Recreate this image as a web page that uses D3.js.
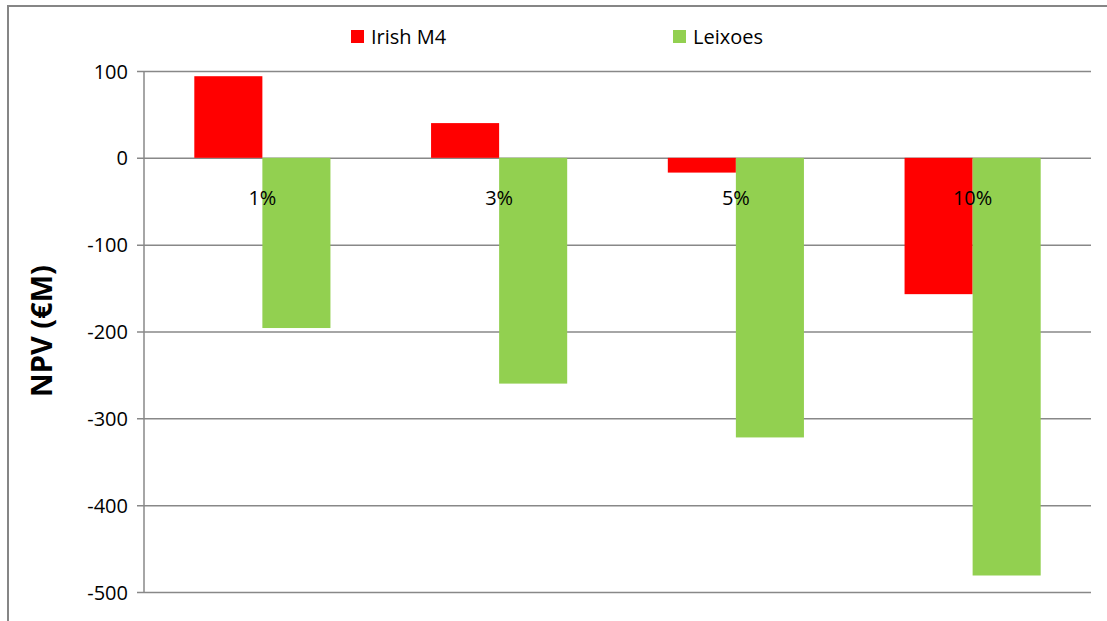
<!DOCTYPE html>
<html>
<head>
<meta charset="utf-8">
<script src="https://cdn.jsdelivr.net/npm/d3@7"></script>
<style>
    body { margin: 0; background: #fff; }
    svg { display: block; }
    text { font-family: "Open Sans", sans-serif; fill: #000; }
</style>
</head>
<body>
<div id="chart"></div>
<script>
(function () {
    'use strict';

    // values (NPV in million euro)
    let categories = ['1%', '3%', '5%', '10%'];
    let seriesNames = ['Irish M4', 'Leixoes'];
    let irishM4 = [94, 40, -17, -157];
    let leixoes = [-196, -260, -322, -481];
    let yTicks = [100, 0, -100, -200, -300, -400, -500];

    let colors = ['#ff0000', '#92d050'];
    let width = 1107, height = 621;
    let plot = { left: 144, right: 1091, top: 71, bottom: 592 };

    let svg = d3.select('#chart').append('svg')
        .attr('width', width)
        .attr('height', height);

    // outer chart frame (only left and top edges are visible)
    svg.append('path')
        .attr('d', 'M8,' + height + 'V6H' + width)
        .attr('fill', 'none')
        .attr('stroke', '#868686')
        .attr('stroke-width', 2);

    let y = d3.scaleLinear()
        .domain([-500, 100])
        .range([plot.bottom, plot.top]);

    let x0 = d3.scaleBand()
        .domain(categories)
        .range([plot.left, plot.right])
        .paddingInner(0.425)
        .paddingOuter(0.2125);

    let x1 = d3.scaleBand()
        .domain(seriesNames)
        .range([0, x0.bandwidth()]);

    // gridlines + ticks via axis
    let yAxis = d3.axisLeft(y)
        .tickValues(yTicks)
        .tickSize(-(plot.right - plot.left))
        .tickPadding(16)
        .tickFormat(function (d) { return String(d); });

    let gAxis = svg.append('g')
        .attr('transform', 'translate(' + plot.left + ',0)')
        .call(yAxis);
    gAxis.select('.domain').remove();
    gAxis.selectAll('.tick line')
        .attr('stroke', '#888888')
        .attr('stroke-width', 1.5)
        .attr('x1', -7);
    gAxis.selectAll('.tick text')
        .style('font-size', '20px')
        .attr('fill', '#000')
        .attr('dy', '0.35em');

    svg.append('line')
        .attr('x1', plot.left).attr('x2', plot.left)
        .attr('y1', plot.top).attr('y2', plot.bottom)
        .attr('stroke', '#888888')
        .attr('stroke-width', 1.5);

    let rows = categories.map(function (c, i) {
        return { cat: c, values: [irishM4[i], leixoes[i]] };
    });

    svg.append('g').selectAll('g')
        .data(rows)
        .enter()
        .append('g')
        .attr('transform', function (d) { return 'translate(' + x0(d.cat) + ',0)'; })
        .selectAll('rect')
        .data(function (d) {
            return d.values.map(function (v, j) { return { name: seriesNames[j], value: v, idx: j }; });
        })
        .enter()
        .append('rect')
        .attr('x', function (d) { return x1(d.name); })
        .attr('y', function (d) { return y(Math.max(0, d.value)); })
        .attr('width', x1.bandwidth())
        .attr('height', function (d) { return Math.abs(y(d.value) - y(0)); })
        .attr('fill', function (d) { return colors[d.idx]; });

    // category labels sit just below the zero line
    svg.append('g').selectAll('text')
        .data(categories)
        .enter()
        .append('text')
        .attr('x', function (d) { return x0(d) + x0.bandwidth() / 2; })
        .attr('y', y(0) + 47)
        .attr('text-anchor', 'middle')
        .style('font-size', '20px')
        .text(function (d) { return d; });

    // y axis title
    svg.append('text')
        .attr('transform', 'translate(52,331) rotate(-90)')
        .attr('text-anchor', 'middle')
        .style('font-size', '29px')
        .style('font-weight', 'bold')
        .text('NPV (€M)');

    // legend
    let legendX = [351, 673];
    let legend = svg.append('g').selectAll('g')
        .data(seriesNames)
        .enter()
        .append('g')
        .attr('transform', function (d, i) { return 'translate(' + legendX[i] + ',30)'; });
    legend.append('rect')
        .attr('width', 13)
        .attr('height', 13)
        .attr('fill', function (d, i) { return colors[i]; });
    legend.append('text')
        .attr('x', 20)
        .attr('y', 14)
        .style('font-size', '20px')
        .text(function (d) { return d; });
})();
</script>
</body>
</html>
